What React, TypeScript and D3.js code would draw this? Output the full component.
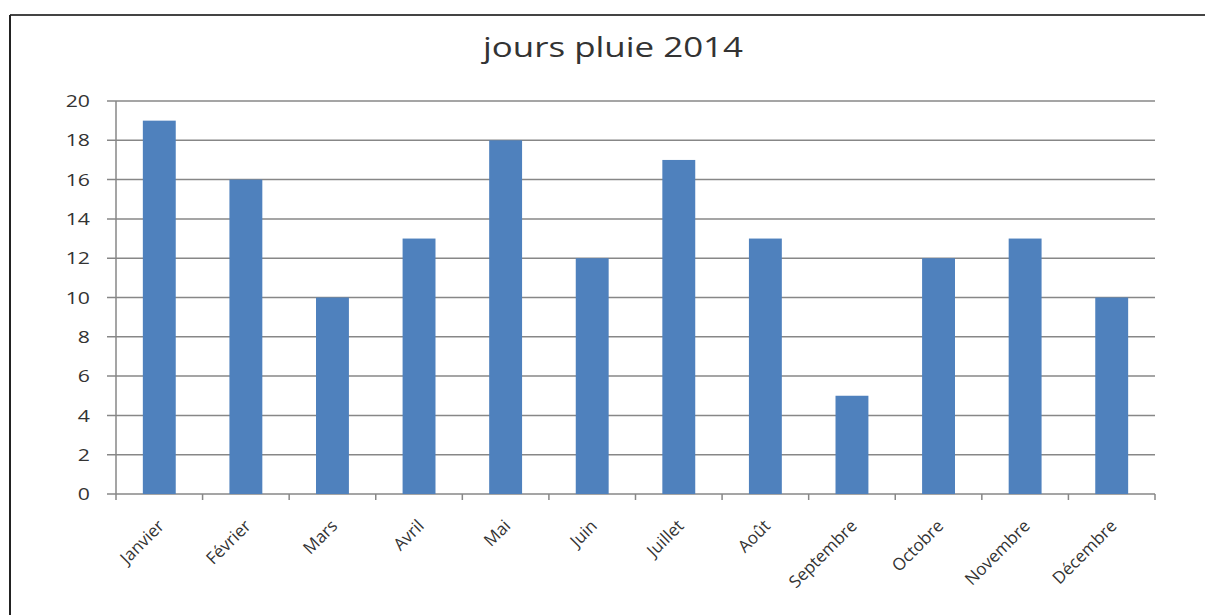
import React from 'react'
import * as d3 from 'd3'

const months = ['Janvier', 'Février', 'Mars', 'Avril', 'Mai', 'Juin', 'Juillet', 'Août', 'Septembre', 'Octobre', 'Novembre', 'Décembre']
const rainDays = [19, 16, 10, 13, 18, 12, 17, 13, 5, 12, 13, 10]
const yTicks = [0, 2, 4, 6, 8, 10, 12, 14, 16, 18, 20]
const title = 'jours pluie 2014'

const W = 1205, H = 615
const left = 116, right = 1155, top = 101, bottom = 494
const font = "'Open Sans', 'Liberation Sans', sans-serif"

export default function App() {
  const x = d3.scaleBand<string>().domain(months).range([left, right]).paddingInner(0.62).paddingOuter(0.31)
  const band = d3.scaleBand<string>().domain(months).range([left, right])
  const y = d3.scaleLinear().domain([0, 20]).range([bottom, top])

  return (
    <svg width={W} height={H} style={{ position: 'absolute', left: 0, top: 0, background: '#fff' }}>
      {/* frame, cut off on right and bottom */}
      <line x1={10} y1={15} x2={W} y2={15} stroke="#444" strokeWidth={2} />
      <line x1={10} y1={15} x2={10} y2={H} stroke="#222" strokeWidth={2} />

      <text x={613} y={57} textAnchor="middle" fontFamily={font} fontSize={28} fill="#333"
        textLength={260} lengthAdjust="spacingAndGlyphs">{title}</text>

      {yTicks.map(t => (
        <g key={t}>
          <line x1={left - 9} x2={right} y1={y(t)} y2={y(t)} stroke="#878787" strokeWidth={1.5} />
          <g transform={`translate(90, ${y(t)}) scale(1.25, 1)`}>
            <text dy="0.36em" textAnchor="end" fontFamily={font} fontSize={17} fill="#333">{t}</text>
          </g>
        </g>
      ))}

      <line x1={left} x2={left} y1={top} y2={bottom + 6} stroke="#878787" strokeWidth={1.5} />
      {months.map(m => (
        <line key={'t' + m} x1={band(m)! + band.bandwidth()} x2={band(m)! + band.bandwidth()} y1={bottom} y2={bottom + 6} stroke="#878787" strokeWidth={1.5} />
      ))}

      {months.map((m, i) => (
        <rect key={m} x={x(m)} y={y(rainDays[i])} width={x.bandwidth()} height={bottom - y(rainDays[i])} fill="#4f81bd" />
      ))}

      {months.map(m => {
        const cx = band(m)! + band.bandwidth() / 2 + 6
        const cy = 527
        return (
          <text key={'l' + m} x={cx} y={cy} textAnchor="end" fontFamily={font} fontSize={17} fill="#333"
            transform={`rotate(-45, ${cx}, ${cy})`}>{m}</text>
        )
      })}
    </svg>
  )
}
